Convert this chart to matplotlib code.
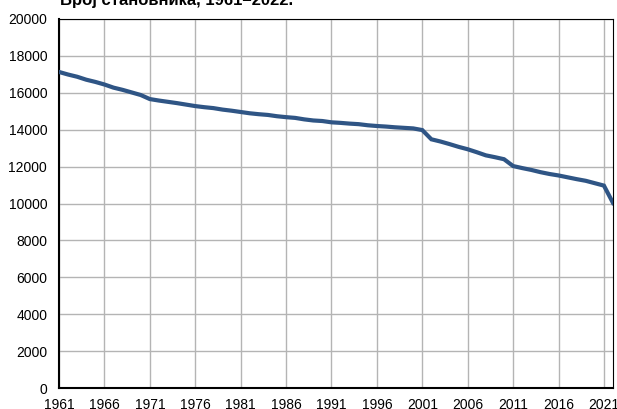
import matplotlib
matplotlib.use("Agg")
import matplotlib.pyplot as plt

years = list(range(1961, 2023))
population = [17130, 16990, 16870, 16710, 16590, 16450, 16280, 16160, 16020, 15880,
              15660, 15580, 15510, 15440, 15360, 15280, 15220, 15170, 15090, 15030,
              14960, 14890, 14840, 14800, 14730, 14680, 14640, 14560, 14500, 14470,
              14400, 14370, 14330, 14300, 14240, 14200, 14170, 14130, 14100, 14070,
              13980, 13480, 13360, 13220, 13070, 12940, 12780, 12610, 12510, 12400,
              12030, 11920, 11820, 11700, 11600, 11520, 11420, 11320, 11230, 11100,
              10970, 10030]
xticks = list(range(1961, 2022, 5))
yticks = list(range(0, 20001, 2000))
title = "Број становника, 1961–2022."

plt.rcParams['font.family'] = ['Liberation Sans', 'DejaVu Sans']

fig = plt.figure(figsize=(6.17, 4.09), dpi=100)
ax = fig.add_axes([59/617, 21/409, (613-59)/617, (388-19)/409])
ax.plot(years, population, color='#2f5585', linewidth=3.0, solid_joinstyle='miter', zorder=3)
ax.set_xlim(1961, 2022)
ax.set_ylim(0, 20000)
ax.set_xticks(xticks)
ax.set_yticks(yticks)
ax.grid(True, color='#b4b4b4', linewidth=1.0)
ax.tick_params(length=0, labelsize=10)
ax.tick_params(axis='y', pad=8.5)
ax.tick_params(axis='x', pad=7.5)
for s in ['top', 'right']:
    ax.spines[s].set_linewidth(0.8)
for s in ['left', 'bottom']:
    ax.spines[s].set_linewidth(1.5)
fig.text(60/617, (409-5)/409, title, fontsize=12, fontweight='bold', va='baseline', ha='left')
fig.savefig('out.png', dpi=100)
